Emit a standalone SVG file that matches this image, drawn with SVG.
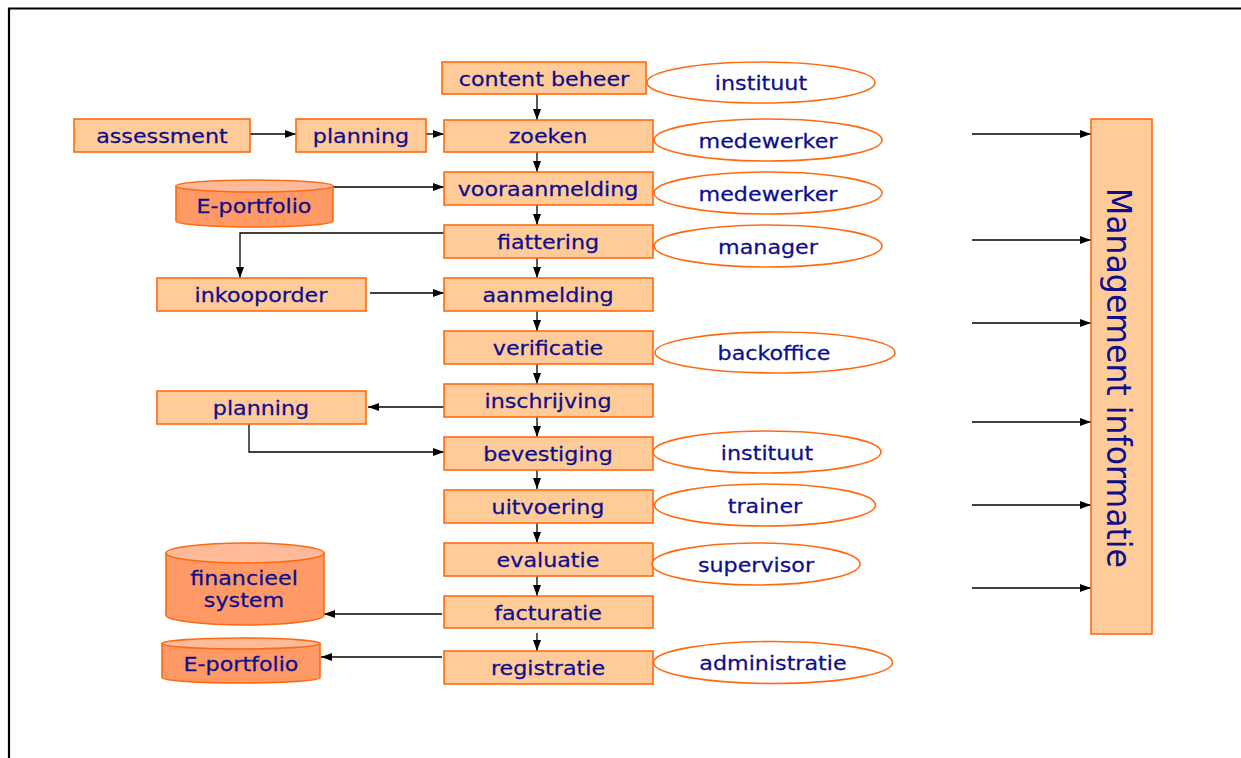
<svg xmlns="http://www.w3.org/2000/svg" width="1241" height="758" viewBox="0 0 1241 758">
<style>
.box{fill:#FFCC99;stroke:#FF6a10;stroke-width:1.6}
.role{fill:#ffffff;stroke:#FF6a10;stroke-width:1.6}
.cyl{fill:#FF9966;stroke:#FF6a10;stroke-width:1.6}
.cyltop{fill:#FFBB99;stroke:#FF6a10;stroke-width:1.6}
.t{font-family:"DejaVu Sans",Verdana,sans-serif;font-size:19px;fill:#0e0e8c;text-anchor:middle;stroke:#0e0e8c;stroke-width:0.25}
.mt{font-family:"DejaVu Sans",Verdana,sans-serif;font-size:34px;fill:#0e0e8c;text-anchor:middle}
.c{fill:none;stroke:#000;stroke-width:1.3}
.frame{fill:none;stroke:#000;stroke-width:2.2}
</style>
<defs>
<marker id="ah" markerUnits="userSpaceOnUse" markerWidth="12" markerHeight="10" refX="11" refY="5" orient="auto">
<path d="M0,1 L11,5 L0,9 Z" fill="#000"/>
</marker>
</defs>
<rect width="1241" height="758" fill="#fff"/>
<path class="frame" d="M9,758 L9,8.5 L1241,8.5"/>

<g id="connectors">
<line class="c" x1="537" y1="94" x2="537" y2="120" marker-end="url(#ah)"/>
<line class="c" x1="537" y1="152" x2="537" y2="172" marker-end="url(#ah)"/>
<line class="c" x1="537" y1="205" x2="537" y2="225" marker-end="url(#ah)"/>
<line class="c" x1="537" y1="258" x2="537" y2="278" marker-end="url(#ah)"/>
<line class="c" x1="537" y1="311" x2="537" y2="331" marker-end="url(#ah)"/>
<line class="c" x1="537" y1="364" x2="537" y2="384" marker-end="url(#ah)"/>
<line class="c" x1="537" y1="417" x2="537" y2="437" marker-end="url(#ah)"/>
<line class="c" x1="537" y1="470" x2="537" y2="489" marker-end="url(#ah)"/>
<line class="c" x1="537" y1="523" x2="537" y2="543" marker-end="url(#ah)"/>
<line class="c" x1="537" y1="576" x2="537" y2="596" marker-end="url(#ah)"/>
<line class="c" x1="537" y1="633" x2="537" y2="651" marker-end="url(#ah)"/>
<line class="c" x1="250" y1="134" x2="296" y2="134" marker-end="url(#ah)"/>
<line class="c" x1="426" y1="134" x2="444" y2="134" marker-end="url(#ah)"/>
<line class="c" x1="333" y1="187" x2="444" y2="187" marker-end="url(#ah)"/>
<polyline class="c" points="446,233 240,233 240,278" marker-end="url(#ah)"/>
<line class="c" x1="370" y1="293" x2="444" y2="293" marker-end="url(#ah)"/>
<line class="c" x1="444" y1="407" x2="368" y2="407" marker-end="url(#ah)"/>
<polyline class="c" points="249,424 249,452 444,452" marker-end="url(#ah)"/>
<line class="c" x1="442" y1="614" x2="324" y2="614" marker-end="url(#ah)"/>
<line class="c" x1="442" y1="657" x2="321" y2="657" marker-end="url(#ah)"/>
<line class="c" x1="972" y1="134" x2="1091" y2="134" marker-end="url(#ah)"/>
<line class="c" x1="972" y1="240" x2="1091" y2="240" marker-end="url(#ah)"/>
<line class="c" x1="972" y1="323" x2="1091" y2="323" marker-end="url(#ah)"/>
<line class="c" x1="972" y1="422" x2="1091" y2="422" marker-end="url(#ah)"/>
<line class="c" x1="972" y1="505" x2="1091" y2="505" marker-end="url(#ah)"/>
<line class="c" x1="972" y1="588" x2="1091" y2="588" marker-end="url(#ah)"/>
</g>

<g id="content-beheer"><rect class="box" x="442" y="62" width="204" height="32"/><text class="t" transform="translate(544,86) scale(1.17,1)">content beheer</text></g>
<g id="zoeken"><rect class="box" x="444" y="120" width="209" height="32"/><text class="t" transform="translate(548,143) scale(1.17,1)">zoeken</text></g>
<g id="vooraanmelding"><rect class="box" x="444" y="172" width="209" height="33"/><text class="t" transform="translate(548,196) scale(1.17,1)">vooraanmelding</text></g>
<g id="fiattering"><rect class="box" x="444" y="225" width="209" height="33"/><text class="t" transform="translate(548,249) scale(1.17,1)">fiattering</text></g>
<g id="aanmelding"><rect class="box" x="444" y="278" width="209" height="33"/><text class="t" transform="translate(548,302) scale(1.17,1)">aanmelding</text></g>
<g id="verificatie"><rect class="box" x="444" y="331" width="209" height="33"/><text class="t" transform="translate(548,355) scale(1.17,1)">verificatie</text></g>
<g id="inschrijving"><rect class="box" x="444" y="384" width="209" height="33"/><text class="t" transform="translate(548,408) scale(1.17,1)">inschrijving</text></g>
<g id="bevestiging"><rect class="box" x="444" y="437" width="209" height="33"/><text class="t" transform="translate(548,461) scale(1.17,1)">bevestiging</text></g>
<g id="uitvoering"><rect class="box" x="444" y="490" width="209" height="33"/><text class="t" transform="translate(548,514) scale(1.17,1)">uitvoering</text></g>
<g id="evaluatie"><rect class="box" x="444" y="543" width="209" height="33"/><text class="t" transform="translate(548,567) scale(1.17,1)">evaluatie</text></g>
<g id="facturatie"><rect class="box" x="444" y="596" width="209" height="32"/><text class="t" transform="translate(548,620) scale(1.17,1)">facturatie</text></g>
<g id="registratie"><rect class="box" x="444" y="651" width="209" height="33"/><text class="t" transform="translate(548,675) scale(1.17,1)">registratie</text></g>

<g id="assessment"><rect class="box" x="74" y="119" width="176" height="33"/><text class="t" transform="translate(162,143) scale(1.17,1)">assessment</text></g>
<g id="planning-1"><rect class="box" x="296" y="119" width="130" height="33"/><text class="t" transform="translate(361,143) scale(1.17,1)">planning</text></g>
<g id="inkooporder"><rect class="box" x="157" y="278" width="209" height="33"/><text class="t" transform="translate(261,302) scale(1.17,1)">inkooporder</text></g>
<g id="planning-2"><rect class="box" x="157" y="391" width="209" height="33"/><text class="t" transform="translate(261,415) scale(1.17,1)">planning</text></g>

<g id="e-portfolio-1">
<path class="cyl" d="M176,186 L176,221 A78.5,6 0 0 0 333,221 L333,186 Z"/>
<ellipse class="cyltop" cx="254.5" cy="186" rx="78.5" ry="6"/>
<text class="t" transform="translate(254,213) scale(1.17,1)">E-portfolio</text>
</g>
<g id="financieel-system">
<path class="cyl" d="M166,553 L166,615 A79,10 0 0 0 324,615 L324,553 Z"/>
<ellipse class="cyltop" cx="245" cy="553" rx="79" ry="10"/>
<text class="t" transform="translate(244,585) scale(1.17,1)">financieel</text>
<text class="t" transform="translate(244,607) scale(1.17,1)">system</text>
</g>
<g id="e-portfolio-2">
<path class="cyl" d="M162,643.5 L162,677.5 A79,5.5 0 0 0 320,677.5 L320,643.5 Z"/>
<ellipse class="cyltop" cx="241" cy="643.5" rx="79" ry="5.5"/>
<text class="t" transform="translate(241,671) scale(1.17,1)">E-portfolio</text>
</g>

<g id="role-instituut-1"><ellipse class="role" cx="761" cy="82.5" rx="114" ry="20.5"/><text class="t" transform="translate(761,90) scale(1.17,1)">instituut</text></g>
<g id="role-medewerker-1"><ellipse class="role" cx="768" cy="140" rx="114" ry="21"/><text class="t" transform="translate(768,147.5) scale(1.17,1)">medewerker</text></g>
<g id="role-medewerker-2"><ellipse class="role" cx="768" cy="193" rx="114" ry="21"/><text class="t" transform="translate(768,200.5) scale(1.17,1)">medewerker</text></g>
<g id="role-manager"><ellipse class="role" cx="768" cy="246" rx="114" ry="21"/><text class="t" transform="translate(768,253.5) scale(1.17,1)">manager</text></g>
<g id="role-backoffice"><ellipse class="role" cx="775" cy="352.5" rx="120" ry="20.5"/><text class="t" transform="translate(774,360) scale(1.17,1)">backoffice</text></g>
<g id="role-instituut-2"><ellipse class="role" cx="767" cy="452" rx="114" ry="21"/><text class="t" transform="translate(767,459.5) scale(1.17,1)">instituut</text></g>
<g id="role-trainer"><ellipse class="role" cx="765" cy="505" rx="110.5" ry="21"/><text class="t" transform="translate(765,512.5) scale(1.17,1)">trainer</text></g>
<g id="role-supervisor"><ellipse class="role" cx="756" cy="564" rx="104" ry="21"/><text class="t" transform="translate(756,571.5) scale(1.17,1)">supervisor</text></g>
<g id="role-administratie"><ellipse class="role" cx="773" cy="662.5" rx="119.5" ry="21"/><text class="t" transform="translate(773,670) scale(1.17,1)">administratie</text></g>

<g id="management-informatie">
<rect class="box" x="1091" y="119" width="61" height="515"/>
<text class="mt" transform="translate(1107,378) rotate(90)" textLength="380" lengthAdjust="spacingAndGlyphs">Management informatie</text>
</g>
</svg>
